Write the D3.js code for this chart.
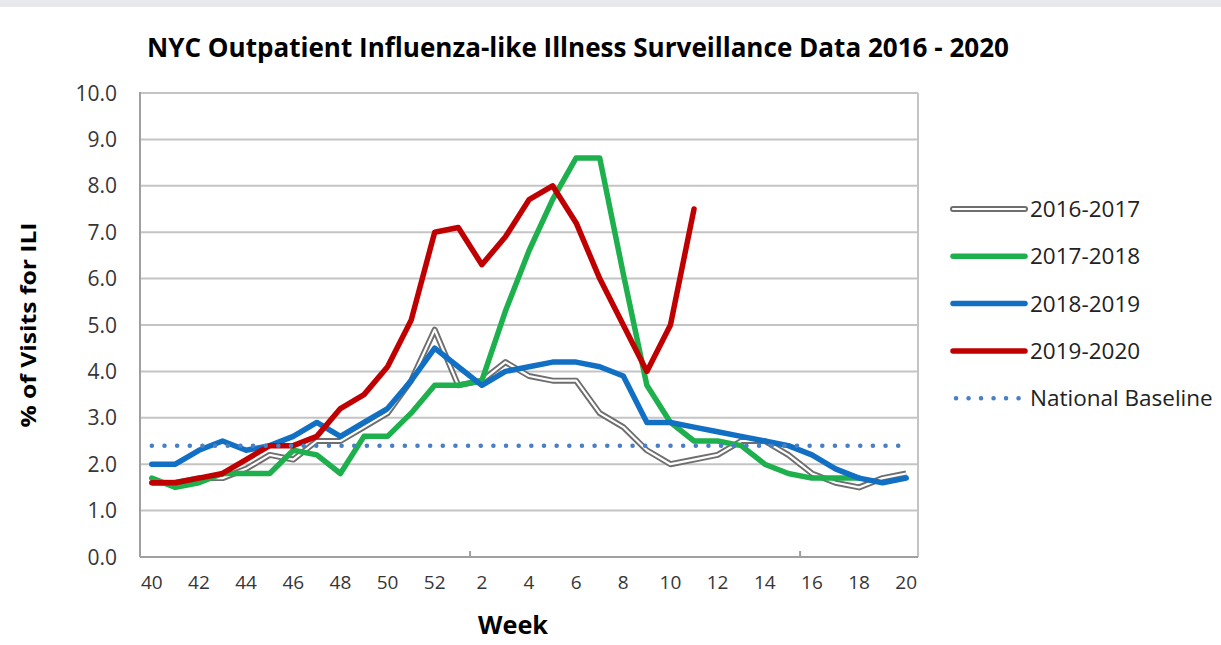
<!DOCTYPE html>
<html>
<head>
<meta charset="utf-8">
<script src="https://cdn.jsdelivr.net/npm/d3@7"></script>
<style>
	body { margin: 0; background: #ffffff; }
	.tick-label { font-family: "Open Sans", sans-serif; fill: #363636; }
	.legend-label { font-family: "Open Sans", sans-serif; fill: #222222; font-size: 22.5px; }
	.title { font-family: "Open Sans", sans-serif; font-weight: bold; fill: #000000; }
</style>
</head>
<body>
<div class="chart"></div>
<script>
var weeks = ["40","41","42","43","44","45","46","47","48","49","50","51","52",
	"1","2","3","4","5","6","7","8","9","10","11","12","13","14","15","16","17","18","19","20"];

var season1617 = [1.6,1.6,1.7,1.7,1.9,2.2,2.1,2.5,2.5,2.8,3.1,3.8,4.9,3.7,3.8,4.2,3.9,3.8,3.8,3.1,2.8,2.3,2.0,2.1,2.2,2.5,2.5,2.2,1.8,1.6,1.5,1.7,1.8];
var season1718 = [1.7,1.5,1.6,1.8,1.8,1.8,2.3,2.2,1.8,2.6,2.6,3.1,3.7,3.7,3.8,5.3,6.6,7.7,8.6,8.6,6.1,3.7,2.9,2.5,2.5,2.4,2.0,1.8,1.7,1.7,1.7];
var season1819 = [2.0,2.0,2.3,2.5,2.3,2.4,2.6,2.9,2.6,2.9,3.2,3.8,4.5,4.1,3.7,4.0,4.1,4.2,4.2,4.1,3.9,2.9,2.9,2.8,2.7,2.6,2.5,2.4,2.2,1.9,1.7,1.6,1.7];
var season1920 = [1.6,1.6,1.7,1.8,2.1,2.4,2.4,2.6,3.2,3.5,4.1,5.1,7.0,7.1,6.3,6.9,7.7,8.0,7.2,6.0,5.0,4.0,5.0,7.5];
var nationalBaseline = 2.4;

var yTicks = [0,1,2,3,4,5,6,7,8,9,10];
var seriesNames = ["2016-2017","2017-2018","2018-2019","2019-2020","National Baseline"];

var width = 1221, height = 645;
var margin = {left: 140, right: 303, top: 93, bottom: 88};

var svg = d3.select(".chart").append("svg")
	.attr("width", width)
	.attr("height", height);

svg.append("rect")
	.attr("x", 0).attr("y", 0)
	.attr("width", width).attr("height", 7)
	.style("fill", "#e8e9ed");

var x = d3.scalePoint()
	.domain(weeks)
	.range([margin.left, width - margin.right])
	.padding(0.5);

var y = d3.scaleLinear()
	.domain([0, 10])
	.range([height - margin.bottom, margin.top]);

var plotLeft = margin.left, plotRight = width - margin.right;

// gridlines
svg.append("g").selectAll("line")
	.data(yTicks.filter(function(d) { return d > 0; }))
	.enter().append("line")
	.attr("x1", plotLeft).attr("x2", plotRight)
	.attr("y1", function(d) { return y(d); })
	.attr("y2", function(d) { return y(d); })
	.style("stroke", "#c4c4c4")
	.style("stroke-width", 2);

// plot border right
svg.append("line")
	.attr("x1", plotRight).attr("x2", plotRight)
	.attr("y1", y(10)).attr("y2", y(0))
	.style("stroke", "#c4c4c4")
	.style("stroke-width", 2);

// axes lines
svg.append("line")
	.attr("x1", plotLeft).attr("x2", plotLeft)
	.attr("y1", y(10) - 1).attr("y2", y(0))
	.style("stroke", "#a0a0a0")
	.style("stroke-width", 2);

svg.append("line")
	.attr("x1", plotLeft).attr("x2", plotRight)
	.attr("y1", y(0)).attr("y2", y(0))
	.style("stroke", "#a0a0a0")
	.style("stroke-width", 2);

// category tick marks every 14 weeks
var step = x.step();
svg.append("g").selectAll("line")
	.data([weeks[14], weeks[28]])
	.enter().append("line")
	.attr("x1", function(d) { return x(d) - step / 2; })
	.attr("x2", function(d) { return x(d) - step / 2; })
	.attr("y1", y(0) - 6).attr("y2", y(0))
	.style("stroke", "#a0a0a0")
	.style("stroke-width", 2);

// y tick labels
svg.append("g").selectAll("text")
	.data(yTicks)
	.enter().append("text")
	.attr("class", "tick-label")
	.attr("x", plotLeft - 23)
	.attr("y", function(d) { return y(d) + 7.5; })
	.attr("text-anchor", "end")
	.style("font-size", "21px")
	.text(function(d) { return d3.format(".1f")(d); });

// x tick labels
svg.append("g").selectAll("text")
	.data(weeks.filter(function(d, i) { return i % 2 == 0; }))
	.enter().append("text")
	.attr("class", "tick-label")
	.attr("x", function(d) { return x(d); })
	.attr("y", y(0) + 32)
	.attr("text-anchor", "middle")
	.style("font-size", "19px")
	.text(function(d) { return d; });

var line = d3.line()
	.x(function(d, i) { return x(weeks[i]); })
	.y(function(d) { return y(d); });

// 2016-2017 double line
svg.append("path")
	.datum(season1617)
	.attr("d", line)
	.style("fill", "none")
	.style("stroke", "#6e6e6e")
	.style("stroke-width", 6)
	.style("stroke-linejoin", "round");
svg.append("path")
	.datum(season1617)
	.attr("d", line)
	.style("fill", "none")
	.style("stroke", "#ffffff")
	.style("stroke-width", 2.2)
	.style("stroke-linejoin", "round");

var colored = [
	{values: season1718, color: "#1db04d"},
	{values: season1819, color: "#1170c4"},
	{values: season1920, color: "#c00000"}
];

for (var s = 0; s < colored.length; s++)
{
	svg.append("path")
		.datum(colored[s].values)
		.attr("d", line)
		.style("fill", "none")
		.style("stroke", colored[s].color)
		.style("stroke-width", 5.5)
		.style("stroke-linejoin", "round")
		.style("stroke-linecap", "round");
}

// national baseline
svg.append("line")
	.attr("x1", x(weeks[0])).attr("x2", x(weeks[weeks.length - 1]))
	.attr("y1", y(nationalBaseline)).attr("y2", y(nationalBaseline))
	.style("stroke", "#4a7fc4")
	.style("stroke-width", 4.5)
	.style("stroke-linecap", "round")
	.style("stroke-dasharray", "0.1 12.55");

// legend
var legendStyles = [
	{color: "#6e6e6e", double: true},
	{color: "#1db04d"},
	{color: "#1170c4"},
	{color: "#c00000"},
	{color: "#4a7fc4", dotted: true}
];

var legend = svg.append("g")
	.attr("transform", "translate(953,209)");

for (var k = 0; k < seriesNames.length; k++)
{
	var ly = k * 47.3;
	var st = legendStyles[k];
	var ln = legend.append("line")
		.attr("x1", st.dotted ? 3 : 0).attr("x2", 72)
		.attr("y1", ly).attr("y2", ly)
		.style("stroke", st.color)
		.style("stroke-linecap", "round");
	if (st.dotted)
	{
		ln.style("stroke-width", 4.5).style("stroke-dasharray", "0.1 12.4");
	}
	else
	{
		ln.style("stroke-width", st.double ? 6 : 5.5);
	}
	if (st.double)
	{
		legend.append("line")
			.attr("x1", 0).attr("x2", 72)
			.attr("y1", ly).attr("y2", ly)
			.style("stroke", "#ffffff")
			.style("stroke-width", 2.2)
			.style("stroke-linecap", "round");
	}
	legend.append("text")
		.attr("class", "legend-label")
		.attr("x", 77)
		.attr("y", ly + 8)
		.text(seriesNames[k]);
}

// titles
svg.append("text")
	.attr("class", "title")
	.attr("x", 578)
	.attr("y", 57)
	.attr("text-anchor", "middle")
	.attr("textLength", 862)
	.attr("lengthAdjust", "spacingAndGlyphs")
	.style("font-size", "26px")
	.text("NYC Outpatient Influenza-like Illness Surveillance Data 2016 - 2020");

svg.append("text")
	.attr("class", "title")
	.attr("transform", "translate(36," + ((y(0) + y(10)) / 2) + ") rotate(-90)")
	.attr("text-anchor", "middle")
	.attr("textLength", 205)
	.attr("lengthAdjust", "spacingAndGlyphs")
	.style("font-size", "22px")
	.text("% of Visits for ILI");

svg.append("text")
	.attr("class", "title")
	.attr("x", 513)
	.attr("y", 634)
	.attr("text-anchor", "middle")
	.attr("textLength", 70)
	.attr("lengthAdjust", "spacingAndGlyphs")
	.style("font-size", "25px")
	.text("Week");
</script>
</body>
</html>
